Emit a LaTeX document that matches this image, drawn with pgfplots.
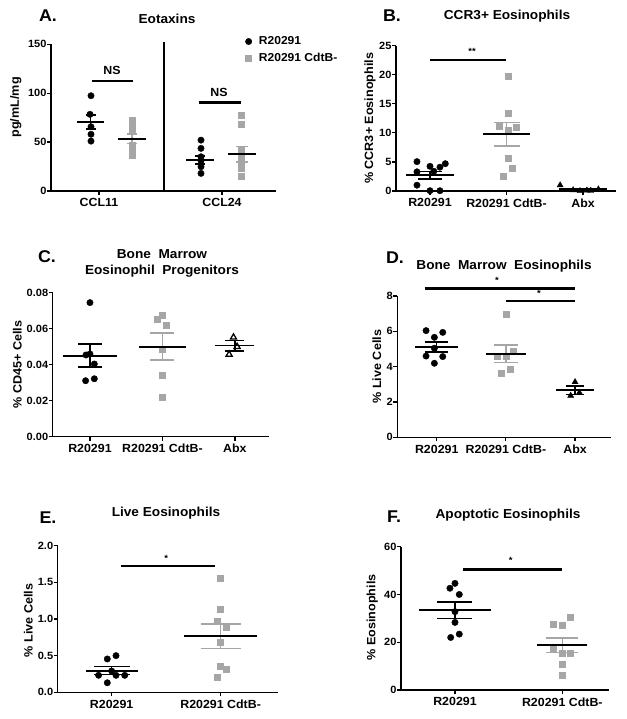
\documentclass[border=0pt]{standalone}
\usepackage{fontspec}
\setmainfont{Liberation Sans}[FakeStretch=1.05]
\usepackage{pgfplots}
\pgfplotsset{compat=1.18}
\definecolor{cdtb}{RGB}{166,166,166}
\newcommand{\tickf}{\fontsize{10.5}{12}\selectfont\bfseries}
\newcommand{\catf}{\fontsize{11.8}{14}\selectfont\bfseries}
\newcommand{\legf}{\fontsize{11.5}{14}\selectfont\bfseries}
\newcommand{\labf}{\fontsize{12}{14}\selectfont\bfseries}
\newcommand{\titf}{\fontsize{13}{15.5}\selectfont\bfseries}
\newcommand{\letf}{\fontsize{17}{20}\selectfont\bfseries}
\newcommand{\starf}{\fontsize{9}{10}\selectfont\bfseries}

\pgfplotsset{
  panel/.style={scale only axis, axis lines*=left, clip=false,
    axis line style={line width=1.3pt},
    every tick/.style={black, line width=1.2pt},
    major tick length=4pt, tick align=outside,
    minor tick num=0, ymin=0,
    /pgf/number format/assume math mode=true,
    yticklabel style={font=\tickf, xshift=3pt},
    xticklabel style={font=\catf},
    ylabel style={font=\labf}},
  ylab/.style 2 args={ylabel style={at={(axis description cs:#1,#2)}, anchor=center}},
  rdot/.style={only marks, mark=*, mark size=3.2pt, black},
  csq/.style={only marks, mark=square*, mark size=3pt, cdtb, mark options={draw=cdtb, fill=cdtb}},
  mean/.style={forget plot, only marks, mark=-, mark size=#1, black, mark options={line width=1.7pt}},
  cap/.style 2 args={forget plot, only marks, mark=-, mark size=#2, #1, mark options={line width=1.5pt, #1}},
  vbar/.style={forget plot, mark=none, line width=1.5pt, #1},
  sig/.style={forget plot, black, line width=2.5pt, mark=none},
}

\begin{document}
\begin{tikzpicture}
\path[use as bounding box] (0,0) rectangle (626pt,-719pt);

% ---------- A. Eotaxins
\begin{axis}[panel, at={(51pt,-191pt)}, anchor=south west,
  width=225pt, height=146.7pt,
  xmin=51, xmax=276, ymax=150,
  xtick={99,222}, xticklabels={CCL11,CCL24},
  ytick={0,50,100,150},
  ylabel={pg/mL/mg}, ylab={-0.156}{0.57},
  legend style={draw=none, fill=none, font=\legf, at={(0.85,1.08)}, anchor=north west,
    row sep=2.5pt, /tikz/every odd column/.append style={column sep=5pt}},
  legend cell align=left]
\addlegendimage{only marks, mark=*, mark size=3.2pt, black}
\addlegendentry{R20291}
\addlegendimage{only marks, mark=square*, mark size=3pt, cdtb}
\addlegendentry{R20291 CdtB-}
\addplot[rdot, forget plot] coordinates {(91,97.4) (90,78.4) (91,65.7) (91,58) (91,51)};
\addplot[csq, forget plot] coordinates {(132,72.5) (132,67) (132,62) (132,47) (132,42) (132,36.5)};
\addplot[rdot, forget plot] coordinates {(201,52) (201,43.6) (201,35) (201,31) (201,24.8) (201,18)};
\addplot[csq, forget plot] coordinates {(241,77.7) (241,68.2) (241,42) (241,35) (241,28) (241,23.5) (241,15.6)};
% mean +- SEM
\addplot[vbar=black] coordinates {(90.5,63.5) (90.5,77.5)};
\addplot[cap={black}{5pt}] coordinates {(90.5,63.5) (90.5,77.5)};
\addplot[vbar=cdtb] coordinates {(132,48.7) (132,58.3)};
\addplot[cap={cdtb}{5pt}] coordinates {(132,48.7) (132,58.3)};
\addplot[vbar=black] coordinates {(200,27.7) (200,35.7)};
\addplot[cap={black}{5pt}] coordinates {(200,27.7) (200,35.7)};
\addplot[vbar=cdtb] coordinates {(242,29.5) (242,45.5)};
\addplot[cap={cdtb}{6pt}] coordinates {(242,29.5) (242,45.5)};
\addplot[mean=13.5pt] coordinates {(90.5,70.5)};
\addplot[mean=14pt] coordinates {(132,53.5)};
\addplot[mean=14pt] coordinates {(200,31.7)};
\addplot[mean=14pt] coordinates {(242,37.5)};
\addplot[sig] coordinates {(92,112.5) (133,112.5)};
\addplot[sig] coordinates {(199,90.7) (241,90.7)};
\node[font=\catf, anchor=south] at (axis cs:112,115) {NS};
\node[font=\catf, anchor=south] at (axis cs:219,93) {NS};
\draw[line width=1.3pt] (axis cs:164,0) -- (axis cs:164,152);
\end{axis}

% ---------- B. CCR3+ Eosinophils
\begin{axis}[panel, at={(396pt,-191pt)}, anchor=south west,
  width=220pt, height=145.3pt,
  xmin=-0.444, xmax=2.43, ymax=25,
  xtick={0,1,2}, xticklabels={R20291,R20291 CdtB-,Abx},
  ytick={0,5,...,25},
  ylabel={\% CCR3+ Eosinophils}, ylab={-0.118}{0.5}]
\addplot[rdot] coordinates {(-0.17,5.05) (0.0,4.25) (0.2,4.7) (0.13,4.1) (-0.17,3.3) (0.05,3.4) (-0.17,1.0) (0.0,0.05) (0.13,0.05)};
\addplot[csq] coordinates {(1.017,19.8) (1.017,13.35) (0.9,11.2) (1.13,10.9) (1.017,10.5) (1.017,5.6) (1.07,3.9) (0.957,2.5)};
\addplot[only marks, mark=triangle*, mark size=3.5pt, black] coordinates {(1.7,1.0) (1.87,0.15) (1.96,0.0) (2.05,0.1) (2.2,0.3) (2.1,0.05)};
\addplot[vbar=black] coordinates {(0,2.06) (0,3.38)};
\addplot[cap={black}{11.7pt}] coordinates {(0,2.06) (0,3.38)};
\addplot[vbar=cdtb] coordinates {(1,7.75) (1,11.75)};
\addplot[cap={cdtb}{13pt}] coordinates {(1,7.75) (1,11.75)};
\addplot[vbar=black] coordinates {(2,0.15) (2,0.45)};
\addplot[cap={black}{8pt}] coordinates {(2,0.15) (2,0.45)};
\addplot[mean=24pt] coordinates {(0,2.72)};
\addplot[mean=23.5pt] coordinates {(1,9.75)};
\addplot[mean=24pt] coordinates {(2,0.3)};
\addplot[sig] coordinates {(0,22.5) (0.99,22.5)};
\node[font=\starf, anchor=south] at (axis cs:0.55,22.8) {**};
\end{axis}

% ---------- C. Bone marrow eosinophil progenitors
\begin{axis}[panel, at={(52.7pt,-436.7pt)}, anchor=south west,
  width=216.3pt, height=144pt,
  xmin=-0.514, xmax=2.47, ymax=0.08,
  xtick={0,1,2}, xticklabels={R20291,R20291 CdtB-,Abx},
  ytick={0,0.02,0.04,0.06,0.08},
  yticklabel style={/pgf/number format/.cd, fixed, fixed zerofill, precision=2},
  scaled y ticks=false,
  ylabel={\% CD45+ Cells}, ylab={-0.164}{0.5}]
\addplot[rdot] coordinates {(0,0.0745) (-0.055,0.0454) (0.0,0.0460) (0.06,0.0404) (-0.06,0.0311) (0.06,0.0322)};
\addplot[csq] coordinates {(0.93,0.0652) (1,0.0676) (1.055,0.0617) (1,0.0485) (1,0.0343) (1,0.0222)};
\addplot[only marks, mark=triangle, mark size=3.5pt, black, mark options={line width=1.3pt}] coordinates {(1.98,0.0552) (2.03,0.0500) (1.92,0.0457)};
\addplot[vbar=black] coordinates {(0,0.0386) (0,0.0514)};
\addplot[cap={black}{12pt}] coordinates {(0,0.0386) (0,0.0514)};
\addplot[vbar=cdtb] coordinates {(1,0.0425) (1,0.0575)};
\addplot[cap={cdtb}{12pt}] coordinates {(1,0.0425) (1,0.0575)};
\addplot[vbar=black] coordinates {(2,0.0477) (2,0.0535)};
\addplot[cap={black}{9.5pt}] coordinates {(2,0.0477) (2,0.0535)};
\addplot[mean=27pt] coordinates {(0,0.045)};
\addplot[mean=23.7pt] coordinates {(1,0.050)};
\addplot[mean=19.5pt] coordinates {(2,0.0506)};
\end{axis}

% ---------- D. Bone marrow eosinophils
\begin{axis}[panel, at={(397.3pt,-437.3pt)}, anchor=south west,
  width=213.7pt, height=141.3pt,
  xmin=-0.57, xmax=2.52, ymax=8,
  xtick={0,1,2}, xticklabels={R20291,R20291 CdtB-,Abx},
  ytick={0,2,4,6,8},
  ylabel={\% Live Cells}, ylab={-0.096}{0.5}]
\addplot[rdot] coordinates {(-0.154,6.04) (0.087,5.94) (-0.034,5.66) (-0.034,5.04) (-0.154,4.6) (0.087,4.57) (-0.034,4.19)};
\addplot[csq] coordinates {(1,6.98) (0.88,4.6) (1,4.57) (1.11,4.9) (0.937,3.62) (1.058,3.85)};
\addplot[only marks, mark=triangle*, mark size=3.5pt, black] coordinates {(2,3.13) (2.063,2.53) (1.937,2.36)};
\addplot[vbar=black] coordinates {(0,4.83) (0,5.41)};
\addplot[cap={black}{11.7pt}] coordinates {(0,4.83) (0,5.41)};
\addplot[vbar=cdtb] coordinates {(1,4.23) (1,5.23)};
\addplot[cap={cdtb}{11.7pt}] coordinates {(1,4.23) (1,5.23)};
\addplot[vbar=black] coordinates {(2,2.43) (2,2.91)};
\addplot[cap={black}{9pt}] coordinates {(2,2.43) (2,2.91)};
\addplot[mean=21.5pt] coordinates {(0,5.12)};
\addplot[mean=20pt] coordinates {(1,4.73)};
\addplot[mean=19pt] coordinates {(2,2.67)};
\addplot[sig] coordinates {(-0.17,8.42) (2,8.42)};
\addplot[sig] coordinates {(1,7.72) (2,7.72)};
\node[font=\starf, anchor=south] at (axis cs:0.87,8.5) {*};
\node[font=\starf, anchor=south] at (axis cs:1.48,7.8) {*};
\end{axis}

% ---------- E. Live eosinophils
\begin{axis}[panel, at={(57.7pt,-692.3pt)}, anchor=south west,
  width=220.3pt, height=146.6pt,
  xmin=-0.495, xmax=1.526, ymax=2,
  xtick={0,1}, xticklabels={R20291,R20291 CdtB-},
  ytick={0,0.5,1,1.5,2},
  yticklabel style={/pgf/number format/.cd, fixed, fixed zerofill, precision=1},
  ylabel={\% Live Cells}, ylab={-0.133}{0.49}]
\addplot[rdot] coordinates {(-0.04,0.455) (0.04,0.5) (-0.12,0.232) (0,0.29) (0.04,0.232) (0.12,0.232) (-0.04,0.13)};
\addplot[csq] coordinates {(1,1.55) (1,1.13) (0.97,0.97) (1.05,0.89) (1,0.69) (1,0.35) (1.05,0.31) (0.97,0.21)};
\addplot[vbar=black] coordinates {(0,0.24) (0,0.35)};
\addplot[cap={black}{18pt}] coordinates {(0,0.24) (0,0.35)};
\addplot[vbar=cdtb] coordinates {(1,0.6) (1,0.93)};
\addplot[cap={cdtb}{20pt}] coordinates {(1,0.6) (1,0.93)};
\addplot[mean=26pt] coordinates {(0,0.295)};
\addplot[mean=36.7pt] coordinates {(1,0.765)};
\addplot[sig] coordinates {(0.09,1.72) (0.95,1.72)};
\node[font=\starf, anchor=south] at (axis cs:0.5,1.74) {*};
\end{axis}

% ---------- F. Apoptotic eosinophils
\begin{axis}[panel, at={(401pt,-690pt)}, anchor=south west,
  width=208pt, height=143.3pt,
  xmin=-0.503, xmax=1.435, ymax=60,
  xtick={0,1}, xticklabels={R20291,R20291 CdtB-},
  ytick={0,20,40,60},
  ylabel={\% Eosinophils}, ylab={-0.138}{0.506}]
\addplot[rdot] coordinates {(0,44.65) (-0.047,42.6) (0.04,40.0) (0,32.8) (0,28.3) (0.04,23.4) (-0.04,22.0)};
\addplot[csq] coordinates {(1.078,30.3) (0.916,27.6) (1,27.2) (0.916,17.4) (1,15.3) (1.078,15.6) (1,10.9) (1,6.3)};
\addplot[vbar=black] coordinates {(0,30.0) (0,36.8)};
\addplot[cap={black}{17.5pt}] coordinates {(0,30.0) (0,36.8)};
\addplot[vbar=cdtb] coordinates {(1,15.8) (1,21.8)};
\addplot[cap={cdtb}{16pt}] coordinates {(1,15.8) (1,21.8)};
\addplot[mean=36pt] coordinates {(0,33.4)};
\addplot[mean=25pt] coordinates {(1,18.8)};
\addplot[sig] coordinates {(0.075,50.5) (1,50.5)};
\node[font=\starf, anchor=south] at (axis cs:0.52,51.5) {*};
\end{axis}

% ---------- panel letters and titles
\node[font=\letf] at (48pt,-16pt) {A.};
\node[font=\letf] at (392pt,-16pt) {B.};
\node[font=\letf] at (47pt,-257pt) {C.};
\node[font=\letf] at (395pt,-258pt) {D.};
\node[font=\letf] at (48pt,-518pt) {E.};
\node[font=\letf] at (394pt,-517pt) {F.};
\node[font=\titf] at (167pt,-19pt) {Eotaxins};
\node[font=\titf] at (507pt,-16pt) {CCR3+ Eosinophils};
\node[font=\titf, align=center] at (162pt,-263.5pt) {Bone\ \ Marrow\\Eosinophil\ \ Progenitors};
\node[font=\titf] at (504pt,-266pt) {Bone\ \ Marrow\ \ Eosinophils};
\node[font=\titf] at (166pt,-513pt) {Live Eosinophils};
\node[font=\titf] at (508pt,-515pt) {Apoptotic Eosinophils};
\end{tikzpicture}
\end{document}
